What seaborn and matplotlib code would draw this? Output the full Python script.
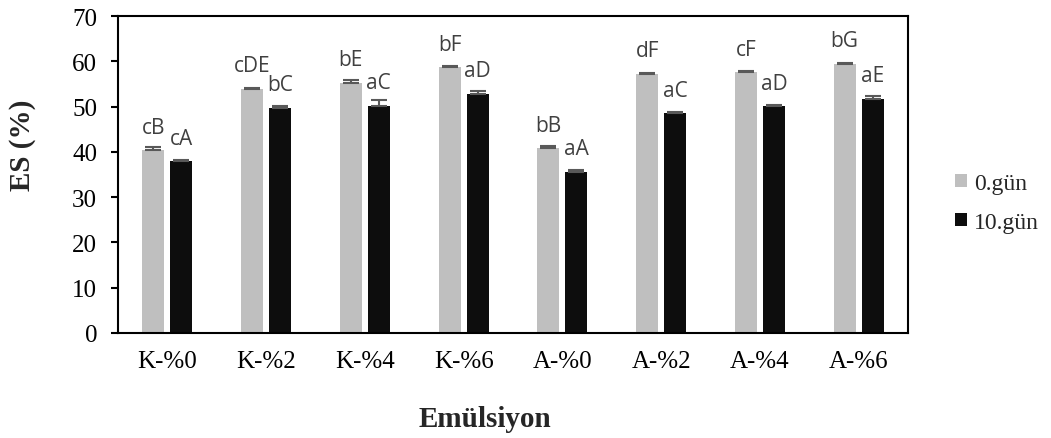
import numpy as np
import pandas as pd
import matplotlib
matplotlib.use("Agg")
import matplotlib.pyplot as plt
import seaborn as sns

# Emulsion stability measured on day 0 and day 10
samples = ["K-%0", "K-%2", "K-%4", "K-%6", "A-%0", "A-%2", "A-%4", "A-%6"]
days = ["0.gün", "10.gün"]
es_day0 = [40.4, 53.9, 55.3, 58.7, 40.8, 57.2, 57.6, 59.5]
es_day10 = [37.9, 49.7, 50.2, 52.8, 35.6, 48.5, 50.1, 51.7]
err_day0 = [0.7, 0.3, 0.6, 0.3, 0.4, 0.3, 0.2, 0.2]
err_day10 = [0.4, 0.4, 1.3, 0.6, 0.3, 0.3, 0.3, 0.6]
letters_day0 = ["cB", "cDE", "bE", "bF", "bB", "dF", "cF", "bG"]
letters_day10 = ["cA", "bC", "aC", "aD", "aA", "aC", "aD", "aE"]

df = pd.DataFrame({
    "Emülsiyon": samples * 2,
    "Gün": [days[0]] * len(samples) + [days[1]] * len(samples),
    "ES": es_day0 + es_day10,
})

sns.set_theme(style="white")
plt.rcParams["font.family"] = ["Liberation Serif", "DejaVu Serif"]

fig = plt.figure(figsize=(10.51, 4.39), dpi=100)
ax = fig.add_axes([118 / 1051, 1 - 334 / 439, 790 / 1051, 317 / 439])

palette = {days[0]: "#BFBFBF", days[1]: "#0D0D0D"}
sns.barplot(data=df, x="Emülsiyon", y="ES", hue="Gün", order=samples,
            hue_order=days, palette=palette, errorbar=None, width=0.567,
            gap=0.21, saturation=1, edgecolor="none", linewidth=0, ax=ax)

errs = [err_day0, err_day10]
labels = [letters_day0, letters_day10]
vals = [es_day0, es_day10]
bar_groups = list(ax.containers)
for k, cont in enumerate(bar_groups):
    xs = [p.get_x() + p.get_width() / 2 for p in cont.patches]
    ax.errorbar(xs, vals[k], yerr=[np.zeros(len(xs)), errs[k]], fmt="none",
                ecolor="#595959", elinewidth=1.5, capsize=6, capthick=1.5,
                zorder=3)
    for x, v, t in zip(xs, vals[k], labels[k]):
        ax.annotate(t, (x, v), xytext=(0, 9), textcoords="offset points",
                    ha="center", va="bottom", fontsize=15,
                    family="Open Sans", color="#404040")

ax.set_ylim(0, 70)
ax.set_xlim(-0.5, 7.5)
ax.set_yticks(range(0, 71, 10))
for s in ax.spines.values():
    s.set_visible(True)
    s.set_color("black")
    s.set_linewidth(1.5)

ax.tick_params(axis="y", which="major", left=True, length=5, width=1.5,
               direction="out", pad=10, labelsize=18, colors="black")
ax.tick_params(axis="x", length=0, pad=12, labelsize=18, colors="black")

ax.set_xlabel("")
ax.set_ylabel("")
fig.text(485 / 1051, 1 - 420 / 439, "Emülsiyon", ha="center", va="center",
         fontsize=21, fontweight="bold")
fig.text(23 / 1051, 1 - 145 / 439, "ES (%)", ha="center", va="center",
         rotation=90, fontsize=21, fontweight="bold")

leg = ax.legend(loc="center left", bbox_to_anchor=(955 / 1051, 1 - 204 / 439),
                bbox_transform=fig.transFigure, frameon=False, fontsize=17,
                handlelength=0.5, handleheight=0.5, handletextpad=0.3,
                labelspacing=0.75, borderaxespad=0, borderpad=0)

fig.savefig("out.png", dpi=100)
